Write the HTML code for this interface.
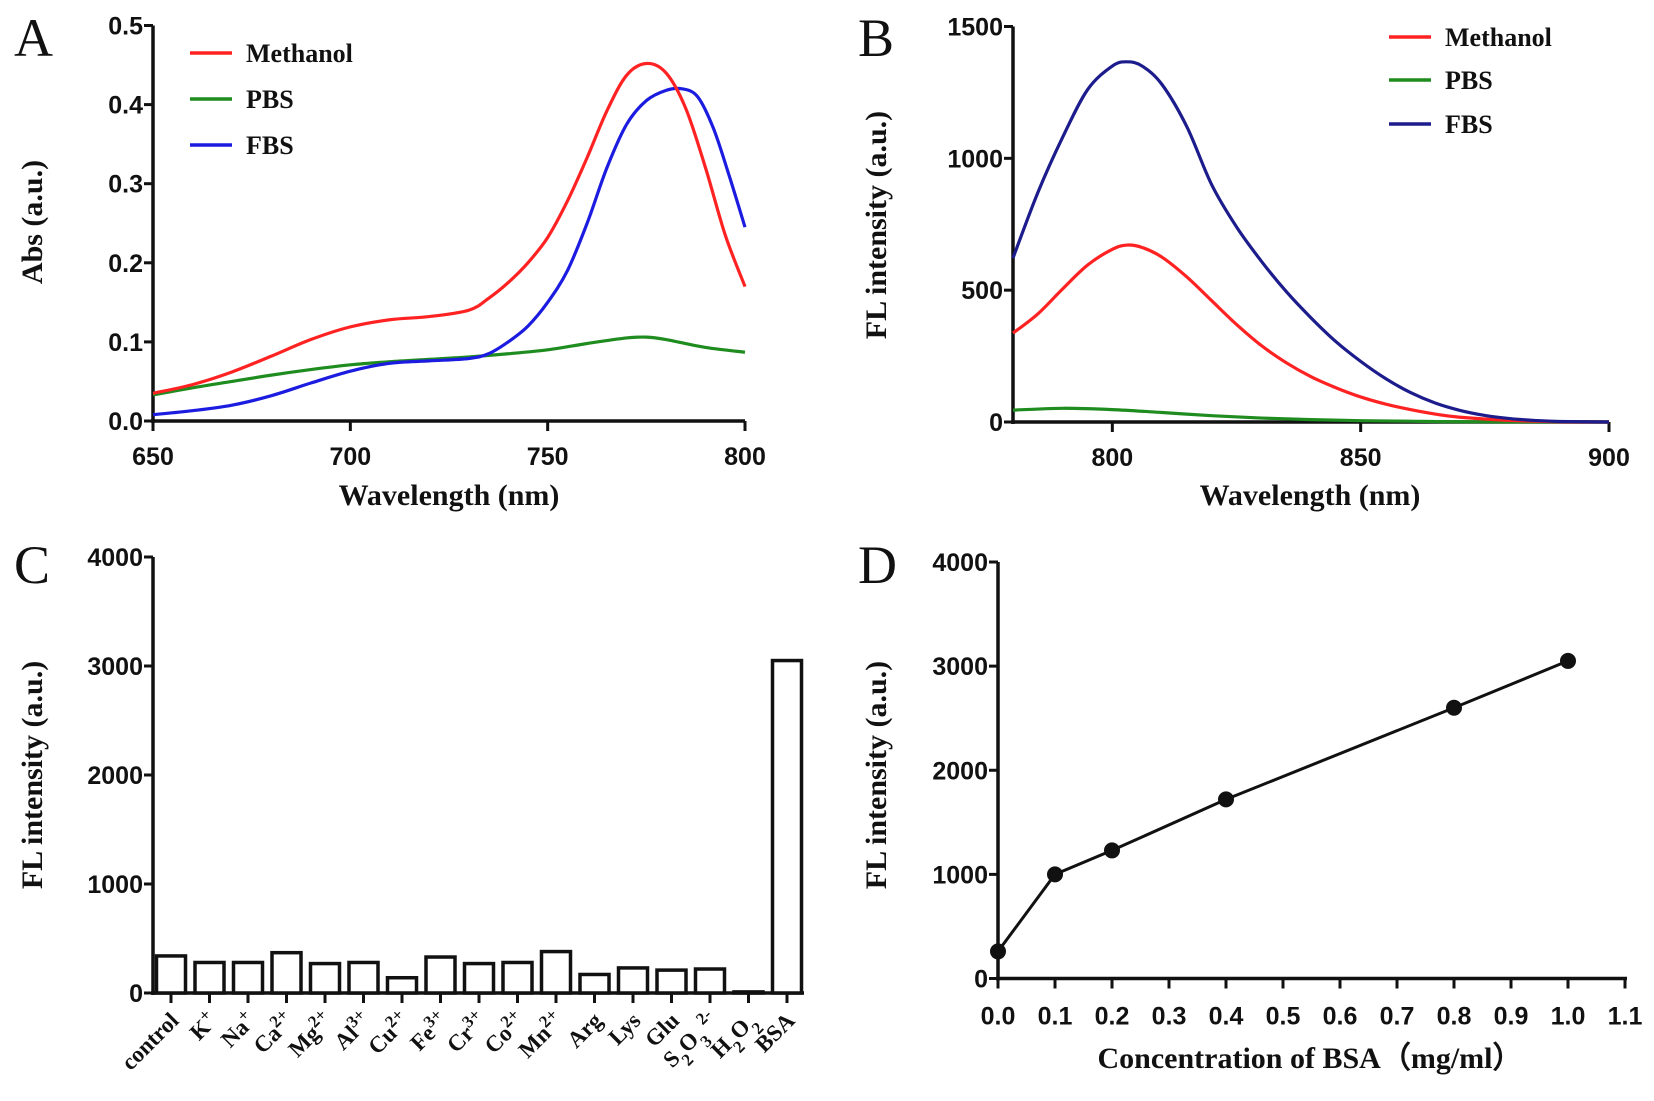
<!DOCTYPE html>
<html><head><meta charset="utf-8"><style>
html,body{margin:0;padding:0;background:#fff;}
svg{display:block;}
.tick{font-family:"Liberation Sans Narrow","Liberation Sans",sans-serif;font-weight:bold;font-size:25px;fill:#111;}
.ttl{font-family:"Liberation Serif",serif;font-weight:bold;font-size:30px;fill:#111;}
.leg{font-family:"Liberation Serif",serif;font-weight:bold;font-size:26px;fill:#111;}
.pl{font-family:"Liberation Serif",serif;font-size:54px;fill:#111;}
.cat{font-family:"Liberation Serif",serif;font-weight:bold;font-size:23px;fill:#111;}
</style></head><body>
<svg id="fig" width="1654" height="1101" viewBox="0 0 1654 1101" xmlns="http://www.w3.org/2000/svg"></svg>
<script>
// Panel A data
const aWl = [650,660,670,680,690,700,710,720,730,735,740,745,750,755,760,765,770,775,780,785,790,795,800];
const aMethanol = [0.035,0.046,0.062,0.082,0.103,0.119,0.128,0.132,0.14,0.155,0.175,0.2,0.232,0.278,0.333,0.392,0.437,0.452,0.44,0.395,0.32,0.235,0.17];
const aFbsWl = [650,660,670,680,690,700,710,720,730,735,740,745,750,755,760,765,770,775,780,784,788,792,796,800];
const aFbs = [0.008,0.013,0.02,0.032,0.048,0.063,0.073,0.076,0.079,0.085,0.1,0.12,0.15,0.19,0.25,0.32,0.375,0.405,0.418,0.42,0.41,0.37,0.31,0.245];
const aPbsWl = [650,660,670,680,690,700,710,720,730,740,750,760,770,775,780,790,800];
const aPbs = [0.033,0.042,0.05,0.058,0.065,0.071,0.075,0.078,0.081,0.085,0.09,0.098,0.105,0.106,0.103,0.093,0.087];
const aXTicks = [650,700,750,800];
const aYTicks = [0,0.1,0.2,0.3,0.4,0.5];
const aYLabels = ["0.0","0.1","0.2","0.3","0.4","0.5"];
// Panel B data
const bMethWl = [780,785,790,795,800,803,806,810,815,820,825,830,835,840,845,850,855,860,865,870,880,890,900];
const bMethanol = [337,410,505,595,655,671,662,625,550,460,370,290,225,172,130,95,68,47,30,18,6,1,0];
const bFbsWl = [780,785,790,795,800,803,806,810,815,820,825,830,835,840,845,850,855,860,865,870,875,880,885,890,900];
const bFbs = [622,870,1080,1260,1350,1366,1350,1280,1120,900,740,610,495,395,305,230,165,112,72,44,25,13,6,2,0];
const bPbsWl = [780,790,800,810,820,830,840,850,860,870,900];
const bPbs = [45,52,47,36,24,15,9,5,3,1,0];
const bXTicks = [800,850,900];
const bYTicks = [0,500,1000,1500];
// Panel C data
const cCats = ["control","K+","Na+","Ca2+","Mg2+","Al3+","Cu2+","Fe3+","Cr3+","Co2+","Mn2+","Arg","Lys","Glu","S2O32-","H2O2","BSA"];
const cVals = [340,280,280,370,270,280,140,330,270,280,380,170,230,210,220,10,3050];
const cYTicks = [0,1000,2000,3000,4000];
// Panel D data
const dConc = [0,0.1,0.2,0.4,0.8,1.0];
const dVals = [260,1000,1230,1720,2600,3050];
const dXTicks = [0,0.1,0.2,0.3,0.4,0.5,0.6,0.7,0.8,0.9,1.0,1.1];
const dYTicks = [0,1000,2000,3000,4000];

const NS="http://www.w3.org/2000/svg";
const svg=document.getElementById('fig');
function mk(tag,attrs,parent){const e=document.createElementNS(NS,tag);for(const k in attrs)e.setAttribute(k,attrs[k]);(parent||svg).appendChild(e);return e;}
function lin(d0,d1,r0,r1){return v=>r0+(v-d0)/(d1-d0)*(r1-r0);}
function smooth(pts){let d="M"+pts[0][0]+","+pts[0][1];for(let i=0;i<pts.length-1;i++){const p0=pts[i-1]||pts[i],p1=pts[i],p2=pts[i+1],p3=pts[i+2]||p2;const c1x=p1[0]+(p2[0]-p0[0])/6,c1y=p1[1]+(p2[1]-p0[1])/6,c2x=p2[0]-(p3[0]-p1[0])/6,c2y=p2[1]-(p3[1]-p1[1])/6;d+=" C"+c1x+","+c1y+" "+c2x+","+c2y+" "+p2[0]+","+p2[1];}return d;}

function axes(g,x0,x1,y0,y1){
  const yl=mk('line',{x1:x0,y1:y0+2,x2:x0,y2:y1,stroke:'#111','stroke-width':3.5},g);
  
  
  const xl=mk('line',{x1:x0-2,y1:y0,x2:x1,y2:y0,stroke:'#111','stroke-width':3.5},g);
  
  
}
function yTick(g,x0,y,label){
  mk('line',{x1:x0-9,y1:y,x2:x0,y2:y,stroke:'#111','stroke-width':3},g);
  const t=mk('text',{x:x0-10,y:y+9,'text-anchor':'end',class:'tick'},g);t.textContent=label;
  
  
}
function xTick(g,x,y0,label,dy){
  mk('line',{x1:x,y1:y0,x2:x,y2:y0+10,stroke:'#111','stroke-width':3},g);
  if(label!==null){const t=mk('text',{x:x,y:y0+dy,'text-anchor':'middle',class:'tick'},g);t.textContent=label;
  
  }
}
function text(g,cls,x,y,str,anchor,rot,name){const t=mk('text',{x:x,y:y,class:cls,'text-anchor':anchor||'start'},g);if(rot)t.setAttribute('transform','rotate('+rot+' '+x+' '+y+')');t.textContent=str;
  
  return t;}
function series(g,xs,ys,sx,sy,color,name){const p=mk('path',{d:smooth(xs.map((v,i)=>[sx(v),sy(ys[i])])),fill:'none',stroke:color,'stroke-width':3.2},g);
  
  }
function legend(g,x,y,color,label,name){const l=mk('g',{},g);
  
  
  mk('line',{x1:x,y1:y,x2:x+42,y2:y,stroke:color,'stroke-width':3.5},l);
  const t=mk('text',{x:x+56,y:y+9,class:'leg'},l);t.textContent=label;}

// ---- Panel A
{const g=mk('g',{});
 const sx=lin(650,800,153,745), sy=lin(0,0.5,421,25.5);
 axes(g,153,745,421,25.5);
 aYTicks.forEach((v,i)=>yTick(g,153,sy(v),aYLabels[i]));
 aXTicks.forEach(v=>xTick(g,sx(v),421,String(v),44));
 series(g,aPbsWl,aPbs,sx,sy,'#1f8c1f','series-pbs');
 series(g,aFbsWl,aFbs,sx,sy,'#1c1ce0','series-fbs');
 series(g,aWl,aMethanol,sx,sy,'#ff2222','series-methanol');
 legend(g,190,53,'#ff2222','Methanol','legend-methanol');
 legend(g,190,99,'#1f8c1f','PBS','legend-pbs');
 legend(g,190,145,'#1c1ce0','FBS','legend-fbs');
 text(g,'ttl',449,505,'Wavelength (nm)','middle',0,'x-axis-title');
 text(g,'ttl',42,222,'Abs  (a.u.)','middle',-90,'y-axis-title');
 text(g,'pl',14,56,'A','start',0,'panel-label');}

// ---- Panel B
{const g=mk('g',{});
 const sx=lin(780,900,1013,1609), sy=lin(0,1500,422,26.5);
 axes(g,1013,1609,422,26.5);
 bYTicks.forEach(v=>yTick(g,1013,sy(v),String(v)));
 bXTicks.forEach(v=>xTick(g,sx(v),422,String(v),44));
 series(g,bPbsWl,bPbs,sx,sy,'#1f8c1f','series-pbs');
 series(g,bMethWl,bMethanol,sx,sy,'#ff2222','series-methanol');
 series(g,bFbsWl,bFbs,sx,sy,'#1c1c8c','series-fbs');
 legend(g,1389,37,'#ff2222','Methanol','legend-methanol');
 legend(g,1389,80,'#1f8c1f','PBS','legend-pbs');
 legend(g,1389,124,'#1c1c8c','FBS','legend-fbs');
 text(g,'ttl',1310,505,'Wavelength (nm)','middle',0,'x-axis-title');
 text(g,'ttl',886,225,'FL intensity (a.u.)','middle',-90,'y-axis-title');
 text(g,'pl',858,56,'B','start',0,'panel-label');}

// ---- Panel C
{const g=mk('g',{});
 const sy=lin(0,4000,993,557);
 const step=38.5, cx0=171, bw=29;
 const sx=i=>cx0+i*step;
 axes(g,153,804,993,557);
 cYTicks.forEach(v=>yTick(g,153,sy(v),String(v)));
 cCats.forEach((c,i)=>{
   const r=mk('rect',{x:sx(i)-bw/2,y:sy(cVals[i]),width:bw,height:993-sy(cVals[i]),fill:'#fff',stroke:'#111','stroke-width':3.5},g);
   
   
   xTick(g,sx(i),993,null,0);
   const x=sx(i)+9, y=1022;
   const t=mk('text',{x:x,y:y,class:'cat','text-anchor':'end',transform:'rotate(-45 '+x+' '+y+')'},g);
   
   
   const parts=[];
   if(c==='S2O32-'){parts.push(['S',0],['2',1],['O',0],['3',1],[' 2-',-1]);}
   else if(c==='H2O2'){parts.push(['H',0],['2',1],['O',0],['2',1]);}
   else{const mm=c.match(/^([A-Za-z]+)(\d?[+-])?$/);parts.push([mm[1],0]);if(mm[2])parts.push([mm[2],-1]);}
   parts.forEach(p=>{const s=mk('tspan',{},t);if(p[1]===1){s.setAttribute('baseline-shift','sub');s.setAttribute('font-size','17');}if(p[1]===-1){s.setAttribute('baseline-shift','super');s.setAttribute('font-size','17');}s.textContent=p[0];});
 });
 text(g,'ttl',42,775,'FL intensity (a.u.)','middle',-90,'y-axis-title');
 text(g,'pl',14,583,'C','start',0,'panel-label');}

// ---- Panel D
{const g=mk('g',{});
 const sx=lin(0,1.1,998,1625), sy=lin(0,4000,978.5,562);
 axes(g,998,1627,978.5,562);
 dYTicks.forEach(v=>yTick(g,998,sy(v),String(v)));
 dXTicks.forEach(v=>xTick(g,sx(v),978.5,v.toFixed(1),46));
 const pl=mk('polyline',{points:dConc.map((v,i)=>sx(v)+','+sy(dVals[i])).join(' '),fill:'none',stroke:'#111','stroke-width':3},g);
 
 
 dConc.forEach((v,i)=>{const c=mk('circle',{cx:sx(v),cy:sy(dVals[i]),r:8,fill:'#111'},g);
   
   });
 text(g,'ttl',1310,1068,'Concentration of BSA（mg/ml）','middle',0,'x-axis-title');
 text(g,'ttl',886,775,'FL intensity (a.u.)','middle',-90,'y-axis-title');
 text(g,'pl',858,583,'D','start',0,'panel-label');}
</script>
</body></html>
